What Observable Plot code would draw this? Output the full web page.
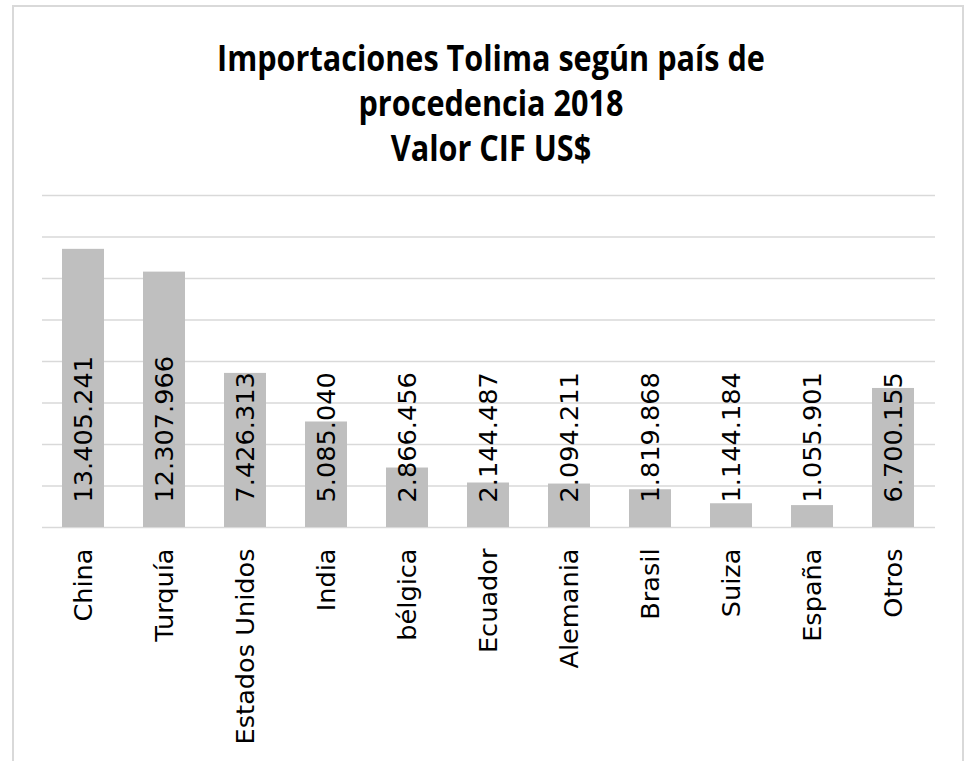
<!DOCTYPE html>
<html>
<head>
<meta charset="utf-8">
<script src="https://cdn.jsdelivr.net/npm/d3@7"></script>
<script src="https://cdn.jsdelivr.net/npm/@observablehq/plot@0.6"></script>
<style>
  html, body { margin: 0; padding: 0; background: #fff; overflow: hidden; }
  #frame { position: absolute; left: 12px; top: 5px; width: 948px; height: 800px; border: 2px solid #d9d9d9; box-sizing: content-box; }
  #title { position: absolute; left: 16px; width: 950px; top: 35px; text-align: center;
           font-family: "Open Sans", sans-serif; font-weight: bold; font-size: 36px; line-height: 45px; color: #000;
           transform: scaleX(0.85); transform-origin: 50% 0; }
  #chart { position: absolute; left: 0; top: 180px; }
</style>
</head>
<body>
<div id="frame"></div>
<div id="title">Importaciones Tolima según país de<br>procedencia 2018<br>Valor CIF US$</div>
<div id="chart"></div>
<script>
const countries = ["China", "Turquía", "Estados Unidos", "India", "bélgica", "Ecuador", "Alemania", "Brasil", "Suiza", "España", "Otros"];
const values = [13405241, 12307966, 7426313, 5085040, 2866456, 2144487, 2094211, 1819868, 1144184, 1055901, 6700155];
const yTicks = [0, 2000000, 4000000, 6000000, 8000000, 10000000, 12000000, 14000000, 16000000];

const data = countries.map((c, i) => ({country: c, value: values[i]}));
const es = d3.formatLocale({decimal: ",", thousands: ".", grouping: [3], currency: ["$", ""]});
const fmt = es.format(",d");

const chart = Plot.plot({
  width: 965,
  height: 581,
  marginTop: 15,
  marginBottom: 234,
  marginLeft: 42,
  marginRight: 30,
  style: {fontFamily: "DejaVu Sans", background: "transparent"},
  x: {domain: countries, paddingInner: 0.48, paddingOuter: 0.24, label: null},
  y: {domain: [0, 16000000], label: null},
  marks: [
    Plot.gridY(yTicks, {stroke: "#d9d9d9", strokeOpacity: 1, strokeWidth: 1.5}),
    Plot.barY(data, {x: "country", y: "value", fill: "#bfbfbf"}),
    Plot.text(data, {x: "country", y: 0, text: d => fmt(d.value), rotate: -90, textAnchor: "start", lineAnchor: "middle", dy: -25, fontSize: 25.6, fill: "#000"}),
    Plot.axisX({tickSize: 0, tickPadding: 21, tickRotate: -90, fontSize: 25.6, fill: "#000", label: null}),
    Plot.axisY({ticks: [], label: null, tickSize: 0})
  ]
});
document.getElementById("chart").appendChild(chart);
</script>
</body>
</html>
